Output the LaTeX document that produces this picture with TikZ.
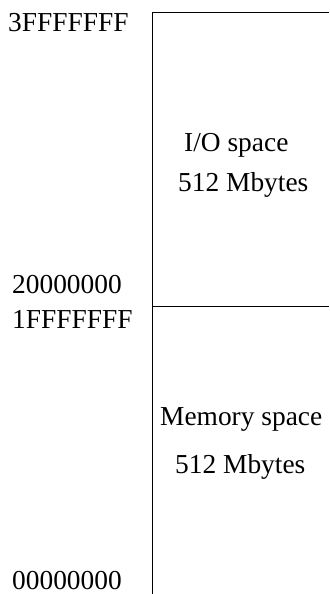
\documentclass[tikz,border=0pt]{standalone}
\usepackage{fontspec}
\setmainfont{Liberation Serif}
\newcommand{\mapcol}{black}
\usepackage{tikz}

\begin{document}
\begin{tikzpicture}[x=1bp, y=-1bp, font=\fontsize{27.5}{33}\selectfont,
    every node/.style={inner sep=0pt, anchor=base west}]

    \useasboundingbox (0, 0) rectangle (329, 594);

    \node (a3) at (8, 32) {3FFFFFFF};
    \node (a2) at (12, 293) {20000000};
    \node (a1) at (12, 328) {1FFFFFFF};
    \node (a0) at (12, 589) {00000000};

    \node (io)  at (184, 152) {I/O space};
    \node (ios) at (178, 191) {512 Mbytes};
    \node (mem)  at (160, 425) {Memory space};
    \node (mems) at (175, 473) {512 Mbytes};

    \draw[draw=\mapcol, line width=1bp] (152, 13) -- (329, 13);
    \draw[draw=\mapcol, line width=1bp] (152, 306) -- (329, 306);
    \draw[draw=\mapcol, line width=1bp] (152, 13) -- (152, 594);

\end{tikzpicture}
\end{document}
